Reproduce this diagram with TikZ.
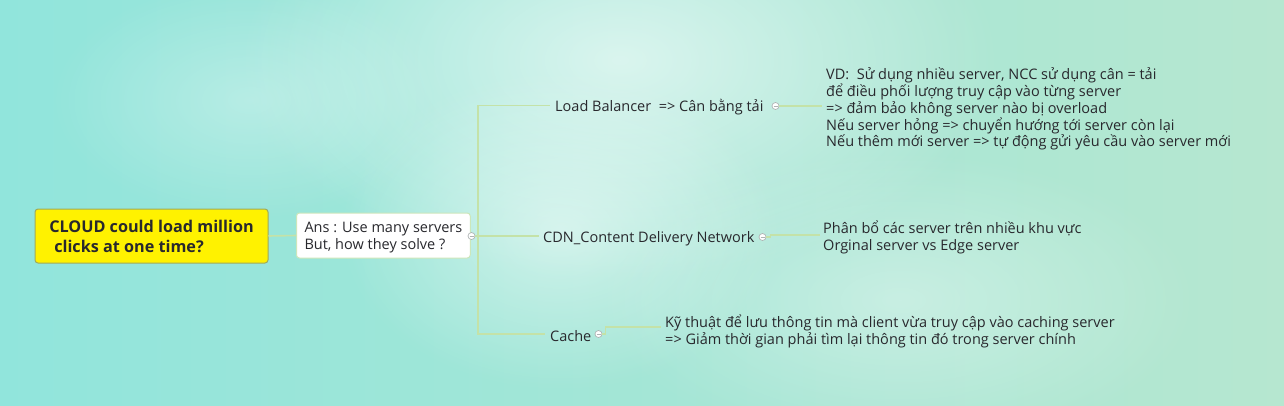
\documentclass[tikz,border=0pt]{standalone}
\usepackage{fontspec}
\setmainfont{Open Sans}
\usetikzlibrary{fadings}
\definecolor{bgL}{RGB}{145,229,220}
\definecolor{bgM}{RGB}{222,247,243}
\definecolor{bgR}{RGB}{182,231,208}
\definecolor{linec}{RGB}{196,226,168}
\definecolor{textc}{RGB}{40,40,45}
\definecolor{rootborder}{RGB}{160,170,90}
\definecolor{ansborder}{RGB}{204,230,186}
\definecolor{knob}{RGB}{175,180,180}
\tikzfading[name=glow, inner color=transparent!0, outer color=transparent!100]
\tikzset{
  txt/.style={anchor=west, inner sep=0pt, text=textc, font=\fontsize{14.5}{16.8}\selectfont, align=left},
  rootbox/.style={draw=rootborder, line width=1pt, fill=yellow, rounded corners=3pt, minimum width=233pt, minimum height=54pt, align=left, text=textc, font=\fontsize{16.2}{20}\selectfont\bfseries},
  ansbox/.style={draw=ansborder, line width=1pt, fill=white, rounded corners=3pt, anchor=west, minimum height=45pt, inner xsep=8pt, text depth=0pt, align=left, text=textc, font=\fontsize{14.5}{17.2}\selectfont},
  conn/.style={draw=linec, line width=1.6pt},
  knobc/.style={circle, draw=knob, fill=white, line width=0.7pt, minimum size=7pt, inner sep=0pt, path picture={\draw[knob, line width=0.6pt] ([xshift=-2pt]path picture bounding box.center) -- ([xshift=2pt]path picture bounding box.center);}}
}
\begin{document}
\begin{tikzpicture}[x=1pt,y=-1pt]
\useasboundingbox (0,0) rectangle (1284,405);
\shade[left color=bgL, middle color=bgM, right color=bgR] (0,0) rectangle (1284,405);
\fill[white, opacity=0.6, path fading=glow] (620,60) ellipse (380 and 220);
\fill[white, opacity=0.5, path fading=glow] (560,230) ellipse (220 and 160);
\fill[white, opacity=0.35, path fading=glow] (900,300) ellipse (300 and 150);
\fill[white, opacity=0.3, path fading=glow] (250,100) ellipse (200 and 120);

\node[rootbox] (root) at (151.5,236) {CLOUD could load million\\\hspace{5pt}clicks at one time?};
\node[ansbox] (ans) at (296,235.5) {Ans : Use many servers\\But, how they solve ?};
\node[knobc] (k0) at (471.5,236) {};
\coordinate (j) at (478,236);

\node[txt] (lb) at (555,107.5) {Load Balancer\ \ => Cân bằng tải};
\node[knobc] (k1) at (775.5,106) {};
\node[txt] (vd) at (826,109) {VD:\ \ Sử dụng nhiều server, NCC sử dụng cân = tải\\để điều phối lượng truy cập vào từng server\\=> đảm bảo không server nào bị overload\\Nếu server hỏng => chuyển hướng tới server còn lại\\Nếu thêm mới server => tự động gửi yêu cầu vào server mới};

\node[txt] (cdn) at (543,239) {CDN\_Content Delivery Network};
\node[knobc] (k2) at (762.5,237) {};
\node[txt] (cdnn) at (823,237.5) {Phân bổ các server trên nhiều khu vực\\Orginal server vs Edge server};

\node[txt] (cache) at (550,336) {Cache};
\node[knobc] (k3) at (598.5,334) {};
\node[txt] (cachen) at (665,331.5) {Kỹ thuật để lưu thông tin mà client vừa truy cập vào caching server\\=> Giảm thời gian phải tìm lại thông tin đó trong server chính};

\draw[conn] (root.east) -- (ans.west);
\draw[conn] (k0.east) -- (j);
\draw[draw=linec, line width=1.2pt] (j) |- ([xshift=-5pt,yshift=2pt]lb.west);
\draw[draw=linec, line width=1.2pt] (j) |- ([xshift=-5pt,yshift=2pt]cache.west);
\draw[conn] (j) -- ([xshift=-4pt]j -| cdn.west);
\draw[conn] (k1.east) -- ([xshift=-4pt]k1.east -| vd.west);
\draw[conn] (k2.east) -- ++(4,0) |- ([xshift=-3pt,yshift=2.5pt]cdnn.west);
\draw[conn] (k3.east) -- ++(3,0) |- ([xshift=-4pt,yshift=4.5pt]cachen.west);
\end{tikzpicture}
\end{document}
